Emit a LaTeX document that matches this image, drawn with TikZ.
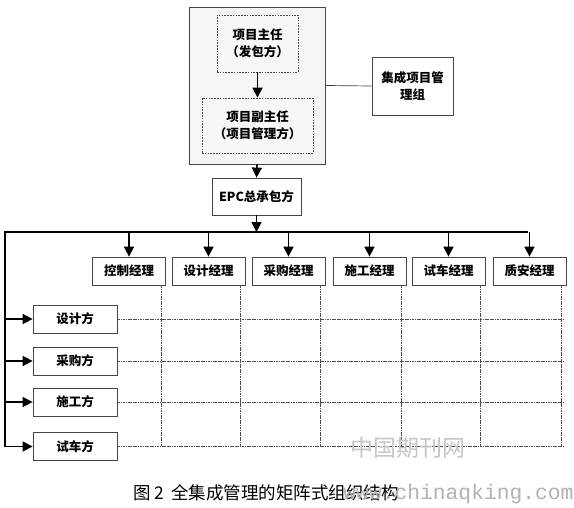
\documentclass[tikz,border=0pt]{standalone}
\usepackage{fontspec}
\newfontfamily\cjk{Noto Sans CJK SC}
\newfontfamily\monof{Liberation Mono}
\usetikzlibrary{arrows.meta}
\tikzset{
  box/.style={draw=gray!55!black, line width=0.8pt, fill=white, inner sep=0pt,
    font=\cjk\bfseries\fontsize{12.5}{17}\selectfont, align=center},
  dbox/.style={box, dash pattern=on 1.6pt off 1.2pt, fill=gray!6},
  outerbox/.style={draw=gray!55!black, line width=1pt, fill=gray!8},
  arr/.style={-{Triangle[length=10pt,width=10pt]}, line width=1.6pt, black},
  bus/.style={line width=1.6pt, black},
  gridl/.style={draw=gray!60!black, line width=0.7pt, dash pattern=on 1.2pt off 0.5pt},
  thin/.style={draw=gray!50!black, line width=0.7pt}
}
\begin{document}
\begin{tikzpicture}[x=1pt,y=-1pt]
\useasboundingbox[fill=white] (0,0) rectangle (574,507);
% top area
\node[outerbox, minimum width=136pt, minimum height=157pt] (top) at (257,85.5) {};
\node[dbox, minimum width=81pt, minimum height=57pt] (pm) at (257.5,43.5) {项目主任\\（发包方）};
\node[dbox, minimum width=111pt, minimum height=55pt] (vpm) at (257.5,125.5) {项目副主任\\（项目管理方）};
\node[box, minimum width=81pt, minimum height=58pt] (grp) at (412.5,86) {集成项目管\\理组};
\draw[arr] (pm.south) -- (vpm.north);
\draw[thin] (top.east) -- (grp.west);
\node[box, minimum width=89pt, minimum height=37pt] (epc) at (256.5,196.5) {EPC总承包方};
\draw[arr] (top.south) -- (epc.north);
% bus
\coordinate (busL) at (5,232);
\coordinate (busR) at (528,232);
\coordinate (busB) at (5,446.5);
\draw[arr] (epc.south) -- (epc.south |- busL);
\draw[bus] (busB) -- (busL) -- (busR);
% managers
\foreach \n/\x/\t in {m1/129/控制经理, m2/208.5/设计经理, m3/288.5/采购经理, m4/369.5/施工经理, m5/448.5/试车经理, m6/529.5/质安经理}{
  \node[box, minimum width=73pt, minimum height=28pt] (\n) at (\x,271) {\t};
}
% rows
\foreach \n/\y/\t in {r1/319/设计方, r2/361/采购方, r3/402/施工方, r4/446.5/试车方}{
  \node[box, minimum width=84pt, minimum height=28pt] (\n) at (75,\y) {\t};
}
% grid
\coordinate (gR) at (563,446.5);
\foreach \n in {m1,m2,m3,m4,m5,m6}{
  \draw[gridl] ([xshift=-5pt]\n.south east) -- ([xshift=-5pt]\n.south east |- gR);
}
\foreach \n in {r1,r2,r3,r4}{
  \draw[gridl] (\n.east) -- (\n.east -| gR);
}
% arrows
\foreach \n in {m1,m2,m3,m4,m5,m6}{
  \draw[arr] (\n.north |- busL) -- (\n.north);
}
\foreach \n in {r1,r2,r3}{
  \draw[arr] (\n.west -| busL) -- (\n.west);
}
\draw[arr] (busB) -- (r4.west);
% caption
\node[font=\cjk\fontsize{17.5}{19}\selectfont, inner sep=0pt, anchor=west] (cap) at (133,493) {图 2\hspace{7pt}全集成管理的矩阵式组织结构};
\node[font=\cjk\fontsize{23}{24}\selectfont, text=gray!45, inner sep=0pt] (wm1) at (408,448) {中国期刊网};
\node[font=\monof\fontsize{21.3}{24}\selectfont, text=gray!60, inner sep=0pt] (wm2) at (458.5,494) {www.chinaqking.com};
\end{tikzpicture}
\end{document}
